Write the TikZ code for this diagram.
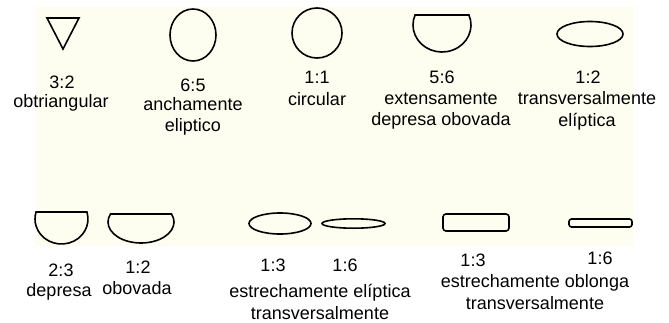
\documentclass[tikz,border=0pt]{standalone}
\usepackage{fontspec}
\setmainfont{Liberation Sans}
\definecolor{paleyellow}{RGB}{254,254,240}

\begin{document}
\begin{tikzpicture}[x=1pt,y=1pt,
  outline/.style={line width=1.6pt, black},
  lbl/.style={font=\fontsize{18}{21.5}\selectfont, inner sep=0pt, align=center}]
\useasboundingbox (0,0) rectangle (669,322);
\fill[paleyellow] (35,76) rectangle (633,315);

% Top row
% obtriangular 3:2
\draw[outline, line join=miter] (47,304) -- (79,304) -- (63,273) -- cycle;
\node[lbl] (r32) at (62,240) {3:2};
\node[lbl] (obtri) at (61,219) {obtriangular};

% anchamente eliptico 6:5
\draw[outline] (193,287) ellipse [x radius=23, y radius=26];
\node[lbl] (r65) at (193,237) {6:5};
\node[lbl] (ancha) at (193,205.5) {anchamente\\eliptico};

% circular 1:1
\draw[outline] (317,289) circle [radius=25];
\node[lbl] (r11) at (317,245) {1:1};
\node[lbl] (circ) at (317,223) {circular};

% extensamente depresa obovada 5:6
\draw[outline] (442,297) ++(21.7:29 and 27)
  arc[start angle=21.7, end angle=-201.7, x radius=29, y radius=27] -- cycle;
\node[lbl] (r56) at (442,245) {5:6};
\node[lbl] (extdep) at (441,211) {extensamente\\depresa obovada};

% transversalmente eliptica 1:2
\draw[outline] (590,288) ellipse [x radius=33, y radius=12.5];
\node[lbl] (r12a) at (588,245) {1:2};
\node[lbl] (transell) at (587,211) {transversalmente\\elíptica};

% Bottom row
% depresa 2:3
\draw[outline] (61.5,103) ++(16.3:26.5 and 25)
  arc[start angle=16.3, end angle=-196.3, x radius=26.5, y radius=25] -- cycle;
\node[lbl] (r23) at (61,52) {2:3};
\node[lbl] (depr) at (59,30) {depresa};

% obovada 1:2
\draw[outline] (141,100) ++(22.4:33 and 21)
  arc[start angle=22.4, end angle=-202.4, x radius=33, y radius=21] -- cycle;
\node[lbl] (r12b) at (138,55) {1:2};
\node[lbl] (obov) at (137,34) {obovada};

% estrechamente eliptica transversalmente 1:3, 1:6
\draw[outline] (280,98.5) ellipse [x radius=31, y radius=10.5];
\draw[outline] (353.5,98.5) ellipse [x radius=31.5, y radius=4.7];
\node[lbl] (r13a) at (273,57) {1:3};
\node[lbl] (r16a) at (345,57) {1:6};
\node[lbl] (estell) at (320,20) {estrechamente elíptica\\transversalmente};

% estrechamente oblonga transversalmente 1:3, 1:6
\draw[outline, rounded corners=3pt] (443,91) rectangle (509,108);
\draw[outline, rounded corners=2.5pt] (569,95) rectangle (632,103);
\node[lbl] (r13b) at (473,62) {1:3};
\node[lbl] (r16b) at (600,64) {1:6};
\node[lbl] (estobl) at (535,30) {estrechamente oblonga\\transversalmente};
\end{tikzpicture}
\end{document}
